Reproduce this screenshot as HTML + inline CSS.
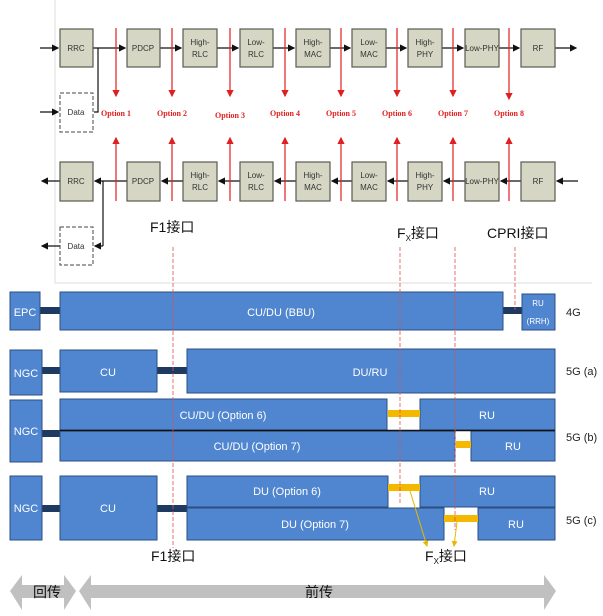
<!DOCTYPE html>
<html><head><meta charset="utf-8"><style>
html,body{margin:0;padding:0;background:#fff;}
svg{display:block;}
.b{fill:#d6d6c4;stroke:#5a5a50;stroke-width:1.2}
.bt{font-family:"Liberation Sans",sans-serif;font-size:8px;fill:#333;text-anchor:middle}
.op{font-family:"Liberation Serif",serif;font-size:8px;fill:#e02020;font-weight:bold;text-anchor:middle}
.bl{fill:#4f86cf;stroke:#2b4e80;stroke-width:1}
.wt{font-family:"Liberation Sans",sans-serif;font-size:11px;fill:#fff;text-anchor:middle}
.lb{font-family:"Liberation Sans","Noto Sans CJK SC",sans-serif;font-size:11px;fill:#222}
.cj{font-family:"Liberation Sans","Noto Sans CJK SC",sans-serif;font-size:14px;fill:#111}
</style></head><body>
<svg width="603" height="616" viewBox="0 0 603 616" xmlns="http://www.w3.org/2000/svg">
<defs>
<marker id="ak" markerWidth="6" markerHeight="6" refX="5" refY="3" orient="auto"><path d="M0,0L6,3L0,6z" fill="#111"/></marker>
<marker id="ar" markerWidth="6" markerHeight="6" refX="5" refY="3" orient="auto"><path d="M0,0L6,3L0,6z" fill="#e02020"/></marker>
<marker id="ay" markerWidth="6" markerHeight="6" refX="5" refY="3" orient="auto"><path d="M0,0L6,3L0,6z" fill="#e6b800"/></marker>
</defs>
<!-- frame -->
<path d="M55,0V283H592" fill="none" stroke="#ddd" stroke-width="1"/>
<!-- top row lines -->
<g stroke="#111" stroke-width="1.2" fill="none">
<line x1="40" y1="48" x2="58" y2="48" marker-end="url(#ak)"/>
<line x1="93" y1="48" x2="125" y2="48" marker-end="url(#ak)"/>
<line x1="160" y1="48" x2="181" y2="48" marker-end="url(#ak)"/>
<line x1="217" y1="48" x2="238" y2="48" marker-end="url(#ak)"/>
<line x1="273" y1="48" x2="294" y2="48" marker-end="url(#ak)"/>
<line x1="330" y1="48" x2="350" y2="48" marker-end="url(#ak)"/>
<line x1="386" y1="48" x2="406" y2="48" marker-end="url(#ak)"/>
<line x1="442" y1="48" x2="463" y2="48" marker-end="url(#ak)"/>
<line x1="499" y1="48" x2="519" y2="48" marker-end="url(#ak)"/>
<line x1="555" y1="48" x2="576" y2="48" marker-end="url(#ak)"/>
<polyline points="98,48 98,112 94,112"/>
<line x1="40" y1="112" x2="58" y2="112" marker-end="url(#ak)"/>
<!-- bottom -->
<line x1="60" y1="181" x2="42" y2="181" marker-end="url(#ak)"/>
<line x1="127" y1="181" x2="95" y2="181" marker-end="url(#ak)"/>
<line x1="183" y1="181" x2="162" y2="181" marker-end="url(#ak)"/>
<line x1="240" y1="181" x2="219" y2="181" marker-end="url(#ak)"/>
<line x1="296" y1="181" x2="275" y2="181" marker-end="url(#ak)"/>
<line x1="352" y1="181" x2="332" y2="181" marker-end="url(#ak)"/>
<line x1="408" y1="181" x2="388" y2="181" marker-end="url(#ak)"/>
<line x1="465" y1="181" x2="444" y2="181" marker-end="url(#ak)"/>
<line x1="521" y1="181" x2="501" y2="181" marker-end="url(#ak)"/>
<line x1="578" y1="181" x2="557" y2="181" marker-end="url(#ak)"/>
<polyline points="103,181 103,246"/>
<line x1="103" y1="246" x2="95" y2="246" marker-end="url(#ak)"/>
<line x1="60" y1="246" x2="42" y2="246" marker-end="url(#ak)"/>
</g>
<!-- boxes -->
<g>
<rect class="b" x="60" y="29" width="33" height="38"/>
<rect class="b" x="127" y="29" width="33" height="38"/>
<rect class="b" x="183" y="29" width="34" height="38"/>
<rect class="b" x="240" y="29" width="33" height="38"/>
<rect class="b" x="296" y="29" width="34" height="38"/>
<rect class="b" x="352" y="29" width="34" height="38"/>
<rect class="b" x="408" y="29" width="34" height="38"/>
<rect class="b" x="465" y="29" width="34" height="38"/>
<rect class="b" x="521" y="29" width="34" height="38"/>
<rect class="b" x="60" y="162" width="33" height="39"/>
<rect class="b" x="127" y="162" width="33" height="39"/>
<rect class="b" x="183" y="162" width="34" height="39"/>
<rect class="b" x="240" y="162" width="33" height="39"/>
<rect class="b" x="296" y="162" width="34" height="39"/>
<rect class="b" x="352" y="162" width="34" height="39"/>
<rect class="b" x="408" y="162" width="34" height="39"/>
<rect class="b" x="465" y="162" width="34" height="39"/>
<rect class="b" x="521" y="162" width="34" height="39"/>
<rect x="60" y="93" width="33" height="39" fill="#fff" stroke="#444" stroke-dasharray="4,2"/>
<rect x="60" y="227" width="33" height="38" fill="#fff" stroke="#444" stroke-dasharray="4,2"/>
</g>
<g class="bt">
<text x="76" y="51">RRC</text><text x="143" y="51">PDCP</text>
<text x="200" y="45">High-</text><text x="200" y="57">RLC</text>
<text x="256" y="45">Low-</text><text x="256" y="57">RLC</text>
<text x="313" y="45">High-</text><text x="313" y="57">MAC</text>
<text x="369" y="45">Low-</text><text x="369" y="57">MAC</text>
<text x="425" y="45">High-</text><text x="425" y="57">PHY</text>
<text x="482" y="51">Low-PHY</text><text x="538" y="51">RF</text>
<text x="76" y="184">RRC</text><text x="143" y="184">PDCP</text>
<text x="200" y="178">High-</text><text x="200" y="190">RLC</text>
<text x="256" y="178">Low-</text><text x="256" y="190">RLC</text>
<text x="313" y="178">High-</text><text x="313" y="190">MAC</text>
<text x="369" y="178">Low-</text><text x="369" y="190">MAC</text>
<text x="425" y="178">High-</text><text x="425" y="190">PHY</text>
<text x="482" y="184">Low-PHY</text><text x="538" y="184">RF</text>
<text x="76" y="115">Data</text><text x="76" y="249">Data</text>
</g>
<!-- red option lines -->
<g stroke="#e02020" stroke-width="1.2">
<line x1="116" y1="28" x2="116" y2="96" marker-end="url(#ar)"/>
<line x1="172" y1="28" x2="172" y2="96" marker-end="url(#ar)"/>
<line x1="230" y1="28" x2="230" y2="96" marker-end="url(#ar)"/>
<line x1="285" y1="28" x2="285" y2="96" marker-end="url(#ar)"/>
<line x1="341" y1="28" x2="341" y2="96" marker-end="url(#ar)"/>
<line x1="397" y1="28" x2="397" y2="96" marker-end="url(#ar)"/>
<line x1="453" y1="28" x2="453" y2="96" marker-end="url(#ar)"/>
<line x1="509" y1="28" x2="509" y2="99" marker-end="url(#ar)"/>
<line x1="116" y1="201" x2="116" y2="138" marker-end="url(#ar)"/>
<line x1="172" y1="201" x2="172" y2="138" marker-end="url(#ar)"/>
<line x1="230" y1="201" x2="230" y2="138" marker-end="url(#ar)"/>
<line x1="285" y1="201" x2="285" y2="138" marker-end="url(#ar)"/>
<line x1="341" y1="201" x2="341" y2="138" marker-end="url(#ar)"/>
<line x1="397" y1="201" x2="397" y2="138" marker-end="url(#ar)"/>
<line x1="453" y1="201" x2="453" y2="138" marker-end="url(#ar)"/>
<line x1="509" y1="201" x2="509" y2="138" marker-end="url(#ar)"/>
</g>
<g class="op">
<text x="116" y="116">Option 1</text><text x="172" y="116">Option 2</text>
<text x="230" y="118">Option 3</text><text x="285" y="116">Option 4</text>
<text x="341" y="116">Option 5</text><text x="397" y="116">Option 6</text>
<text x="453" y="116">Option 7</text><text x="509" y="116">Option 8</text>
</g>
<text class="cj" x="150" y="232">F1接口</text>
<text class="cj" x="397" y="238">F<tspan font-size="8" dy="3">X</tspan><tspan dy="-3">接口</tspan></text>
<text class="cj" x="487" y="238">CPRI接口</text>
<!-- connectors dark -->
<g fill="#1f3a60">
<rect x="40" y="307" width="22" height="7"/>
<rect x="501" y="307" width="22" height="7"/>
<rect x="40" y="367" width="22" height="7"/>
<rect x="155" y="367" width="33" height="7"/>
<rect x="40" y="430" width="22" height="7"/>
<rect x="40" y="505" width="22" height="7"/>
<rect x="155" y="505" width="33" height="7"/>
</g>
<!-- blue boxes -->
<g>
<rect class="bl" x="10" y="292" width="30" height="38"/>
<rect class="bl" x="60" y="292" width="443" height="38"/>
<rect class="bl" x="522" y="294" width="33" height="36"/>
<rect class="bl" x="10" y="350" width="32" height="45"/>
<rect class="bl" x="60" y="350" width="97" height="42"/>
<rect class="bl" x="187" y="349" width="368" height="44"/>
<rect class="bl" x="10" y="400" width="32" height="62"/>
<rect class="bl" x="60" y="399" width="327" height="31"/>
<rect class="bl" x="420" y="399" width="135" height="31"/>
<rect class="bl" x="60" y="431" width="395" height="30"/>
<rect class="bl" x="471" y="431" width="84" height="30"/>
<rect class="bl" x="10" y="476" width="32" height="64"/>
<rect class="bl" x="60" y="476" width="97" height="64"/>
<rect class="bl" x="187" y="476" width="201" height="31"/>
<rect class="bl" x="420" y="476" width="135" height="31"/>
<rect class="bl" x="187" y="508" width="257" height="32"/>
<rect class="bl" x="478" y="508" width="77" height="32"/>
</g>
<line x1="60" y1="430.5" x2="555" y2="430.5" stroke="#111" stroke-width="1.5"/>
<!-- yellow -->
<g fill="#f5b800">
<rect x="388" y="410" width="32" height="7"/>
<rect x="456" y="441" width="15" height="7"/>
<rect x="388" y="484" width="32" height="7"/>
<rect x="444" y="515" width="34" height="7"/>
</g>
<g stroke="#e6b800" stroke-width="1">
<line x1="410" y1="491" x2="427" y2="546" marker-end="url(#ay)"/>
<line x1="457" y1="522" x2="454" y2="546" marker-end="url(#ay)"/>
</g>
<g class="wt">
<text x="25" y="316">EPC</text><text x="281" y="316">CU/DU (BBU)</text>
<text x="538" y="306" font-size="8">RU</text><text x="538" y="324" font-size="8">(RRH)</text>
<text x="26" y="377">NGC</text><text x="108" y="376">CU</text><text x="370" y="376">DU/RU</text>
<text x="26" y="435">NGC</text><text x="223" y="419">CU/DU (Option 6)</text><text x="487" y="419">RU</text>
<text x="257" y="450">CU/DU (Option 7)</text><text x="513" y="450">RU</text>
<text x="26" y="512">NGC</text><text x="108" y="512">CU</text>
<text x="287" y="495">DU (Option 6)</text><text x="487" y="495">RU</text>
<text x="315" y="528">DU (Option 7)</text><text x="516" y="528">RU</text>
</g>
<g class="lb">
<text x="566" y="316">4G</text><text x="566" y="375">5G (a)</text>
<text x="566" y="441">5G (b)</text><text x="566" y="524">5G (c)</text>
</g>
<!-- dashed red vertical -->
<g stroke="#e05050" stroke-width="0.8" stroke-dasharray="4,2">
<line x1="173" y1="247" x2="173" y2="548"/>
<line x1="400" y1="247" x2="400" y2="505"/>
<line x1="455" y1="247" x2="455" y2="530"/>
<line x1="515" y1="247" x2="515" y2="310"/>
</g>
<text class="cj" x="151" y="561">F1接口</text>
<text class="cj" x="425" y="561">F<tspan font-size="8" dy="3">X</tspan><tspan dy="-3">接口</tspan></text>
<!-- bottom arrows -->
<path d="M10,591L22,575V585H64V575L76,591L64,610V598H22V610Z" fill="#c0c0c0"/>
<path d="M79,591L91,575V585H544V575L556,591L544,610V598H91V610Z" fill="#c0c0c0"/>
<text class="cj" x="33" y="597" font-size="13">回传</text>
<text class="cj" x="305" y="597" font-size="13">前传</text>
</svg>
</body></html>
